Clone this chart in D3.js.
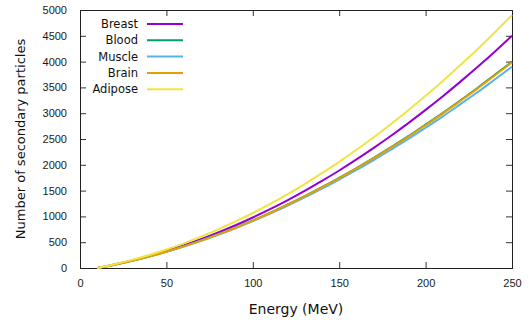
<!DOCTYPE html>
<html>
<head>
<meta charset="utf-8">
<script src="https://cdn.jsdelivr.net/npm/d3@7"></script>
<style>
  body { margin: 0; background: #fff; }
  svg { display: block; font-family: "DejaVu Sans", Verdana, sans-serif; }
  .tick-label { font-size: 11px; fill: #1a1a1a; }
  .axis-title { font-size: 13px; fill: #111; }
  .x-title { font-size: 14px; }
  .legend-label { font-size: 11.5px; fill: #111; }
</style>
</head>
<body>
<div id="chart"></div>
<script>
// energy grid (MeV)
const energies = [10, 20, 30, 40, 50, 60, 70, 80, 90, 100, 110, 120, 130,
    140, 150, 160, 170, 180, 190, 200, 210, 220, 230, 240, 250];

// secondary particles per tissue
const breast  = [0, 67, 144, 232, 330, 439, 558, 688, 828, 979, 1140, 1312, 1494,
    1687, 1890, 2104, 2328, 2563, 2808, 3064, 3330, 3607, 3894, 4192, 4500];
const blood   = [0, 65, 140, 224, 317, 420, 532, 653, 783, 922, 1070, 1227, 1392,
    1566, 1748, 1938, 2135, 2343, 2555, 2779, 3007, 3246, 3489, 3743, 4000];
const muscle  = [0, 64, 138, 221, 313, 414, 525, 644, 771, 907, 1053, 1206, 1367,
    1538, 1715, 1901, 2092, 2294, 2501, 2718, 2938, 3171, 3405, 3653, 3900];
const brain   = [0, 65, 139, 223, 316, 419, 530, 651, 780, 919, 1066, 1223, 1387,
    1561, 1742, 1932, 2128, 2335, 2547, 2770, 2997, 3235, 3477, 3731, 3987];
const adipose = [0, 73, 157, 253, 359, 478, 608, 749, 902, 1066, 1241, 1429, 1627,
    1837, 2058, 2291, 2535, 2791, 3058, 3337, 3626, 3928, 4241, 4565, 4900];

const seriesNames = ["Breast", "Blood", "Muscle", "Brain", "Adipose"];
const seriesValues = [breast, blood, muscle, brain, adipose];
const seriesColors = ["#9400d3", "#009e73", "#56b4e9", "#e69f00", "#f0e442"];

const xTicks = [0, 50, 100, 150, 200, 250];
const yTicks = [0, 500, 1000, 1500, 2000, 2500, 3000, 3500, 4000, 4500, 5000];

const width = 528, height = 325;
const margin = { top: 10, right: 16, bottom: 57, left: 80 };

const svg = d3.select("#chart").append("svg")
    .attr("width", width)
    .attr("height", height);

const x = d3.scaleLinear().domain([0, 250]).range([margin.left, width - margin.right]);
const y = d3.scaleLinear().domain([0, 5000]).range([height - margin.bottom, margin.top]);

const tickLen = 6;
const fmt = d3.format("d");

// inward ticks on all four sides (gnuplot style mirror ticks)
svg.append("g")
    .attr("transform", `translate(0,${y(0)})`)
    .call(d3.axisBottom(x).tickValues(xTicks).tickFormat(fmt).tickSizeInner(-tickLen).tickSizeOuter(0).tickPadding(11))
    .call(g => g.select(".domain").remove())
    .call(g => g.selectAll("text").attr("class", "tick-label").attr("font-size", null).attr("font-family", null))
    .call(g => g.selectAll("line").attr("stroke", "#333"));

svg.append("g")
    .attr("transform", `translate(0,${y(5000)})`)
    .call(d3.axisTop(x).tickValues(xTicks).tickSizeInner(-tickLen).tickSizeOuter(0).tickFormat(""))
    .call(g => g.select(".domain").remove())
    .call(g => g.selectAll("line").attr("stroke", "#333"));

svg.append("g")
    .attr("transform", `translate(${x(0)},0)`)
    .call(d3.axisLeft(y).tickValues(yTicks).tickFormat(fmt).tickSizeInner(-tickLen).tickSizeOuter(0).tickPadding(13))
    .call(g => g.select(".domain").remove())
    .call(g => g.selectAll("text").attr("class", "tick-label").attr("font-size", null).attr("font-family", null))
    .call(g => g.selectAll("line").attr("stroke", "#333"));

svg.append("g")
    .attr("transform", `translate(${x(250)},0)`)
    .call(d3.axisRight(y).tickValues(yTicks).tickSizeInner(-tickLen).tickSizeOuter(0).tickFormat(""))
    .call(g => g.select(".domain").remove())
    .call(g => g.selectAll("line").attr("stroke", "#333"));

// plot border
svg.append("rect")
    .attr("x", x(0) + 0.5)
    .attr("y", y(5000) + 0.5)
    .attr("width", x(250) - x(0))
    .attr("height", y(0) - y(5000))
    .attr("fill", "none")
    .attr("stroke", "#222")
    .attr("stroke-width", 1);

// curves
const line = d3.line()
    .x((d, i) => x(energies[i]))
    .y(d => y(d))
    .curve(d3.curveMonotoneX);

svg.append("g").selectAll("path")
    .data(seriesValues)
    .join("path")
    .attr("d", line)
    .attr("fill", "none")
    .attr("stroke", (d, i) => seriesColors[i])
    .attr("stroke-width", 2);

// legend
const legend = svg.append("g").selectAll("g")
    .data(seriesNames)
    .join("g")
    .attr("transform", (d, i) => `translate(0,${24 + i * 16.3})`);

legend.append("text")
    .attr("class", "legend-label")
    .attr("x", 138)
    .attr("dy", "0.35em")
    .attr("text-anchor", "end")
    .text(d => d);

legend.append("line")
    .attr("x1", 147)
    .attr("x2", 183)
    .attr("stroke", (d, i) => seriesColors[i])
    .attr("stroke-width", 2);

// axis titles
svg.append("text")
    .attr("class", "axis-title x-title")
    .attr("x", (x(0) + x(250)) / 2)
    .attr("y", 309)
    .attr("dy", "0.35em")
    .attr("text-anchor", "middle")
    .text("Energy (MeV)");

svg.append("text")
    .attr("class", "axis-title")
    .attr("transform", `translate(20,${(y(0) + y(5000)) / 2}) rotate(-90)`)
    .attr("dy", "0.35em")
    .attr("text-anchor", "middle")
    .text("Number of secondary particles");
</script>
</body>
</html>
